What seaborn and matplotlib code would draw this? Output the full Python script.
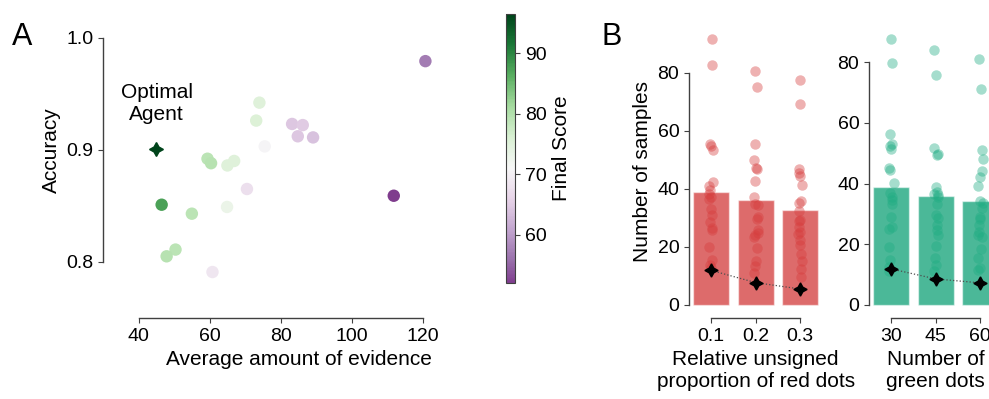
import numpy as np
import pandas as pd
import matplotlib
matplotlib.use("Agg")
import matplotlib.pyplot as plt
import matplotlib.colors as mcolors
import seaborn as sns

# Panel A: one point per participant
evidence = [120.7, 74.0, 73.1, 83.2, 86.2, 84.8, 89.1, 75.5, 59.4, 60.4,
            66.9, 65.0, 70.5, 111.8, 46.5, 55.0, 64.9, 50.4, 47.9, 60.8]
accuracy = [0.979, 0.942, 0.926, 0.923, 0.922, 0.912, 0.911, 0.903, 0.892, 0.888,
            0.890, 0.886, 0.865, 0.859, 0.851, 0.843, 0.849, 0.811, 0.805, 0.791]
final_score = [57, 75, 75.5, 64.5, 65, 64.5, 64, 70.5, 79, 79.5,
               75, 75, 67.5, 52, 87.5, 79, 73, 79, 79.5, 68.5]
optimal_evidence = 44.8
optimal_accuracy = 0.901
optimal_score = 96.5

# Panel B: samples per condition
red_levels = ["0.1", "0.2", "0.3"]
red_samples = {
    "0.1": [91.7, 82.7, 55.4, 54.8, 53.5, 42.4, 40.9, 39.5, 38.2, 37.0,
            36.5, 32.9, 31.0, 28.5, 26.4, 25.8, 19.8, 15.5, 13.8, 12.5],
    "0.2": [80.6, 75.1, 55.4, 49.9, 47.0, 46.7, 42.6, 37.2, 34.6, 34.4,
            30.4, 29.6, 25.8, 24.6, 24.0, 23.3, 19.5, 15.2, 13.4, 10.9],
    "0.3": [77.4, 69.3, 46.8, 45.3, 44.4, 41.3, 35.9, 35.0, 32.4, 29.2,
            28.7, 26.7, 25.0, 24.4, 22.3, 20.6, 17.5, 14.9, 12.3, 9.7],
}
red_means = [39.0, 36.0, 32.8]
red_optimal = [11.8, 7.6, 5.4]

green_levels = ["30", "45", "60"]
green_samples = {
    "30": [87.7, 79.7, 56.4, 52.9, 52.3, 51.5, 45.2, 44.4, 40.2, 36.9,
           35.6, 34.5, 33.4, 29.0, 25.8, 24.9, 19.2, 14.8, 12.6, 11.0],
    "45": [84.1, 75.8, 51.8, 49.9, 49.3, 38.9, 37.3, 36.7, 36.3, 35.5,
           33.4, 29.6, 28.5, 26.3, 24.7, 23.0, 19.4, 15.3, 13.2, 11.0],
    "60": [81.1, 71.2, 51.0, 48.2, 44.2, 42.2, 39.1, 34.3, 33.6, 31.8,
           28.8, 28.2, 26.3, 24.0, 23.0, 22.5, 18.3, 15.3, 12.1, 11.5],
}
green_means = [38.9, 36.0, 34.3]
green_optimal = [11.8, 8.5, 7.2]

STAR = (4, 1, 0)

sns.set_style("ticks")
plt.rcParams["font.family"] = ["Liberation Sans", "DejaVu Sans"]
plt.rcParams["axes.linewidth"] = 1.0
plt.rcParams["axes.edgecolor"] = "0.25"
plt.rcParams["xtick.color"] = "0.25"
plt.rcParams["ytick.color"] = "0.25"
plt.rcParams["xtick.labelcolor"] = "black"
plt.rcParams["ytick.labelcolor"] = "black"
plt.rcParams["text.color"] = "black"
plt.rcParams["axes.labelcolor"] = "black"
plt.rcParams["xtick.labelsize"] = 14
plt.rcParams["ytick.labelsize"] = 14
plt.rcParams["axes.labelsize"] = 15

W, H = 989, 399
fig = plt.figure(figsize=(W / 100, H / 100), dpi=100)


def px_axes(left, right, top, bottom):
    return fig.add_axes([left / W, 1 - bottom / H, (right - left) / W, (bottom - top) / H])


# ---- Panel A ----
cmap = plt.get_cmap("PRGn")
norm = mcolors.Normalize(vmin=45.5, vmax=96.5)

ax_a = px_axes(103, 494, -18.5, 318)
df_a = pd.DataFrame({"evidence": evidence, "accuracy": accuracy, "score": final_score})
sns.scatterplot(data=df_a, x="evidence", y="accuracy", hue="score", palette=cmap,
                hue_norm=norm, s=80, linewidth=0, legend=False, ax=ax_a, zorder=3)
ax_a.plot(optimal_evidence, optimal_accuracy, marker=STAR, markersize=10, linestyle="none",
          color=cmap(norm(optimal_score)), zorder=4)
ax_a.text(optimal_evidence + 0.3, 0.941, "Optimal\nAgent", ha="center", va="center", fontsize=15)
ax_a.set_xlim(30, 140)
ax_a.set_ylim(0.75, 1.05)
ax_a.set_xticks([40, 60, 80, 100, 120])
ax_a.set_yticks([0.8, 0.9, 1.0])
ax_a.set_xlabel("Average amount of evidence")
ax_a.set_ylabel("Accuracy")
sns.despine(ax=ax_a, trim=True)

cax = px_axes(506, 515, 14, 283)
sm = plt.cm.ScalarMappable(norm=norm, cmap=cmap)
cb = fig.colorbar(sm, cax=cax, boundaries=np.linspace(52, 96.5, 300))
cb.set_ticks([60, 70, 80, 90])
cb.set_label("Final Score", fontsize=15)
cb.outline.set_linewidth(0.8)

fig.text(12 / W, 1 - 45 / H, "A", fontsize=22)
fig.text(601 / W, 1 - 45 / H, "B", fontsize=22)


# ---- Panel B ----
def samples_panel(ax, levels, samples, means, optimal, bar_color, dot_color, xlabel, ylim):
    long = pd.DataFrame([(lvl, v) for lvl in levels for v in samples[lvl]],
                        columns=["level", "n"])
    sns.barplot(x=levels, y=means, order=levels, color=bar_color, saturation=1,
                width=0.8, edgecolor=(1, 1, 1, 0.5), linewidth=1, ax=ax, zorder=1)
    sns.stripplot(data=long, x="level", y="n", order=levels, color=dot_color, alpha=0.4,
                  size=7.5, jitter=0.06, linewidth=0, ax=ax, zorder=2)
    ax.plot(np.arange(len(levels)), optimal, linestyle=":", linewidth=0.9, color="0.3",
            marker=STAR, markersize=9.5, markerfacecolor="black", markeredgecolor="black",
            zorder=5)
    ax.set_xlim(-0.5, len(levels) - 0.5)
    ax.set_ylim(*ylim)
    ax.set_yticks([0, 20, 40, 60, 80])
    ax.set_xlabel(xlabel)
    ax.set_ylabel("")
    sns.despine(ax=ax, trim=True)


np.random.seed(3)
ax_b1 = px_axes(689, 822.5, 26, 318)
samples_panel(ax_b1, red_levels, red_samples, red_means, red_optimal,
              "#dd6b6b", "#d63c3c", "Relative unsigned\nproportion of red dots", (-4.6, 96.1))
ax_b1.set_ylabel("Number of samples")

ax_b2 = px_axes(869, 1002.5, 26, 318)
samples_panel(ax_b2, green_levels, green_samples, green_means, green_optimal,
              "#4bb898", "#1eac82", "Number of\ngreen dots", (-4.4, 92.0))

fig.savefig("out.png", dpi=100)
